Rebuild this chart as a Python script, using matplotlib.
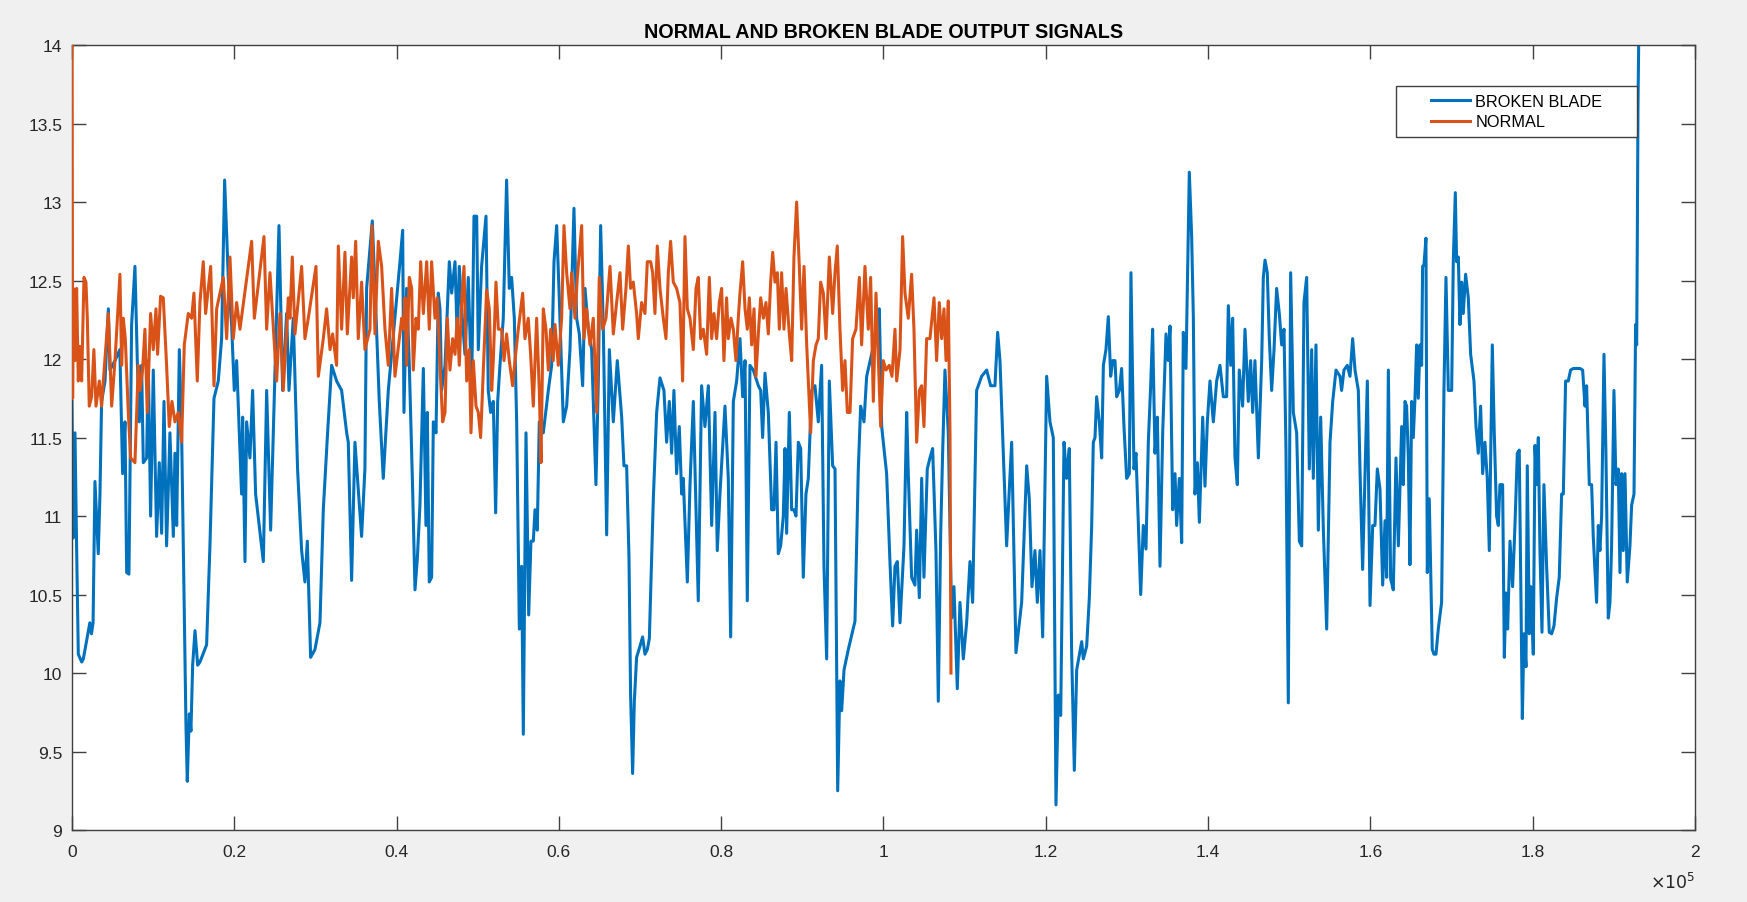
import numpy as np
import matplotlib.pyplot as plt
from matplotlib.patches import Rectangle
from matplotlib.ticker import FuncFormatter

plt.rcParams['font.family'] = ['Liberation Sans', 'DejaVu Sans']

# x values are in units of 1e5 samples
broken_x = [
    0.0, 0.0016, 0.0037, 0.0057, 0.0078, 0.012, 0.014, 0.022, 0.024, 0.026,
    0.0283, 0.0324, 0.0345, 0.0365, 0.0407, 0.0448, 0.0468, 0.053, 0.059, 0.0624,
    0.0653, 0.0674, 0.0702, 0.0735, 0.0776, 0.0805, 0.083, 0.0858, 0.0879, 0.092,
    0.094, 0.0969, 0.1002, 0.1043, 0.1076, 0.1105, 0.1134, 0.1166, 0.1207, 0.1249,
    0.1269, 0.129, 0.1323, 0.1351, 0.1405, 0.1421, 0.1446, 0.1466, 0.1487, 0.1516,
    0.1549, 0.1577, 0.1659, 0.17, 0.175, 0.1803, 0.1844, 0.1881, 0.1926, 0.1967,
    0.2, 0.2029, 0.209, 0.2103, 0.2132, 0.2152, 0.2193, 0.2226, 0.2263, 0.2358,
    0.2399, 0.2448, 0.2551, 0.2596, 0.2645, 0.2674, 0.2727, 0.278, 0.283, 0.2871,
    0.29, 0.2941, 0.2994, 0.3056, 0.3097, 0.315, 0.32, 0.3261, 0.3323, 0.3385,
    0.3405, 0.3446, 0.3487, 0.3569, 0.361, 0.3631, 0.3701, 0.3734, 0.3787, 0.3836,
    0.3898, 0.4042, 0.4075, 0.4091, 0.4124, 0.4157, 0.4198, 0.4227, 0.4256, 0.4288,
    0.433, 0.4362, 0.4379, 0.4403, 0.4432, 0.4453, 0.4486, 0.4514, 0.4535, 0.4555,
    0.4597, 0.465, 0.4679, 0.472, 0.4748, 0.4773, 0.4802, 0.4843, 0.4884, 0.4925,
    0.4954, 0.4987, 0.5007, 0.5048, 0.5102, 0.513, 0.5159, 0.5192, 0.5221, 0.5246,
    0.5274, 0.5315, 0.5356, 0.5389, 0.5418, 0.5451, 0.548, 0.5513, 0.5541, 0.5562,
    0.5595, 0.5628, 0.5656, 0.5685, 0.5706, 0.5734, 0.5759, 0.5808, 0.587, 0.5911,
    0.594, 0.5973, 0.6005, 0.6055, 0.6096, 0.6137, 0.6186, 0.6219, 0.6252, 0.6293,
    0.6322, 0.6363, 0.6404, 0.6457, 0.6486, 0.6515, 0.6548, 0.6589, 0.6622, 0.6671,
    0.672, 0.6774, 0.6802, 0.6835, 0.6864, 0.6884, 0.6909, 0.693, 0.6958, 0.6999,
    0.7032, 0.7061, 0.709, 0.7115, 0.7164, 0.7205, 0.7246, 0.7295, 0.7328, 0.7361,
    0.739, 0.7418, 0.7451, 0.7484, 0.7513, 0.7533, 0.7583, 0.7616, 0.7657, 0.7718,
    0.7759, 0.78, 0.7842, 0.7883, 0.7924, 0.7952, 0.7985, 0.8047, 0.8088, 0.8117,
    0.815, 0.8191, 0.8232, 0.8265, 0.8294, 0.8322, 0.8355, 0.8396, 0.8458, 0.8487,
    0.8511, 0.854, 0.8581, 0.8622, 0.8651, 0.8676, 0.8704, 0.8733, 0.8766, 0.8787,
    0.8807, 0.884, 0.8869, 0.8897, 0.8922, 0.8951, 0.898, 0.9012, 0.9045, 0.9074,
    0.9115, 0.9156, 0.9197, 0.9238, 0.9267, 0.93, 0.9333, 0.9374, 0.9403, 0.9436,
    0.9464, 0.9485, 0.9514, 0.9567, 0.9649, 0.969, 0.9719, 0.976, 0.9793, 0.9854,
    0.9896, 0.9924, 0.9949, 0.9978, 1.0039, 1.008, 1.0113, 1.0142, 1.0171, 1.0204,
    1.0253, 1.0286, 1.0306, 1.0347, 1.0388, 1.0409, 1.0442, 1.0471, 1.0499, 1.054,
    1.0573, 1.0606, 1.0647, 1.0676, 1.0705, 1.0729, 1.0758, 1.0799, 1.084, 1.0869,
    1.091, 1.0943, 1.0984, 1.1025, 1.1066, 1.1099, 1.1148, 1.121, 1.1272, 1.1321,
    1.1374, 1.1407, 1.1436, 1.1477, 1.1518, 1.1551, 1.158, 1.1633, 1.1703, 1.1765,
    1.1797, 1.183, 1.1867, 1.1896, 1.1929, 1.1962, 1.2011, 1.2052, 1.2093, 1.2126,
    1.2155, 1.2184, 1.2225, 1.2257, 1.229, 1.2319, 1.2352, 1.2381, 1.2443, 1.2463,
    1.2504, 1.2537, 1.2566, 1.2586, 1.2607, 1.2627, 1.266, 1.2689, 1.271, 1.2742,
    1.2771, 1.28, 1.2825, 1.2853, 1.2874, 1.2907, 1.2935, 1.2964, 1.2997, 1.303,
    1.305, 1.3087, 1.3112, 1.3141, 1.317, 1.3202, 1.3235, 1.3264, 1.3293, 1.3317,
    1.3346, 1.3375, 1.3408, 1.3441, 1.3482, 1.351, 1.3531, 1.3564, 1.3593, 1.3613,
    1.3646, 1.3675, 1.3695, 1.3728, 1.3769, 1.3798, 1.3819, 1.3839, 1.3868, 1.3893,
    1.3934, 1.3962, 1.3991, 1.4024, 1.4065, 1.4106, 1.4147, 1.4188, 1.4229, 1.425,
    1.4279, 1.4303, 1.4332, 1.4361, 1.4385, 1.4426, 1.4455, 1.4496, 1.4525, 1.455,
    1.4578, 1.462, 1.4661, 1.4681, 1.4702, 1.473, 1.4755, 1.4784, 1.4813, 1.4845,
    1.4878, 1.4907, 1.4936, 1.496, 1.4989, 1.5018, 1.5051, 1.5092, 1.5125, 1.5154,
    1.5182, 1.5215, 1.5248, 1.5277, 1.5297, 1.533, 1.5359, 1.5388, 1.5421, 1.5462,
    1.5503, 1.5536, 1.5577, 1.5626, 1.5646, 1.5675, 1.5716, 1.5749, 1.5782, 1.5811,
    1.5852, 1.5872, 1.5905, 1.5934, 1.5963, 1.5996, 1.6029, 1.6057, 1.6086, 1.6119,
    1.6152, 1.6181, 1.6201, 1.6222, 1.625, 1.6283, 1.6316, 1.6345, 1.6386, 1.6406,
    1.6427, 1.6447, 1.6468, 1.6488, 1.6509, 1.6529, 1.655, 1.657, 1.6591, 1.6611,
    1.6632, 1.6644, 1.6661, 1.6685, 1.6702, 1.6726, 1.6743, 1.6763, 1.6784, 1.6809,
    1.6837, 1.6878, 1.6907, 1.6932, 1.6961, 1.7002, 1.7022, 1.7047, 1.7063, 1.7084,
    1.7104, 1.7125, 1.7145, 1.7174, 1.7207, 1.7236, 1.7277, 1.7302, 1.733, 1.7359,
    1.7384, 1.7412, 1.7441, 1.7466, 1.7503, 1.7527, 1.7556, 1.7577, 1.7597, 1.763,
    1.7651, 1.7671, 1.7692, 1.7721, 1.7753, 1.7782, 1.7811, 1.7835, 1.7852, 1.7873,
    1.7893, 1.7918, 1.7934, 1.7959, 1.7979, 1.8008, 1.8029, 1.8049, 1.807, 1.809,
    1.8115, 1.8139, 1.8172, 1.8205, 1.8234, 1.8263, 1.8296, 1.8328, 1.8357, 1.8378,
    1.8406, 1.8439, 1.8468, 1.8501, 1.8583, 1.8616, 1.8645, 1.8665, 1.8698, 1.8727,
    1.8747, 1.8788, 1.8809, 1.8829, 1.885, 1.8879, 1.8903, 1.8932, 1.8953, 1.8973,
    1.9002, 1.9027, 1.9055, 1.9076, 1.9097, 1.9117, 1.9138, 1.9166, 1.9199, 1.922,
    1.9249, 1.9269, 1.9282, 1.929, 1.9298, 1.9306, 1.9315,
]
broken_y = [
    11.73, 10.86, 11.53, 10.81, 10.12, 10.07, 10.09, 10.32, 10.25, 10.32,
    11.22, 10.76, 11.14, 11.73, 11.86, 12.32, 11.93, 11.99, 12.06, 11.27,
    11.6, 10.64, 10.63, 12.22, 12.59, 11.99, 11.6, 11.96, 11.34, 11.37,
    11.99, 11.0, 11.93, 10.87, 11.34, 10.89, 11.73, 10.81, 11.53, 10.87,
    11.4, 10.94, 12.06, 11.53, 9.66, 9.31, 9.74, 9.63, 10.05, 10.27,
    10.05, 10.07, 10.18, 10.81, 11.75, 11.86, 12.13, 13.14, 12.52, 12.22,
    11.8, 11.99, 11.14, 11.63, 10.71, 11.6, 11.37, 11.8, 11.14, 10.71,
    11.8, 10.91, 12.85, 11.8, 12.29, 11.8, 12.26, 11.3, 10.78, 10.58,
    10.84, 10.1, 10.15, 10.32, 11.04, 11.53, 11.96, 11.86, 11.8, 11.53,
    11.47, 10.59, 11.47, 10.87, 11.3, 12.45, 12.88, 12.45, 11.73, 11.24,
    11.8, 12.62, 12.82, 11.66, 12.45, 11.96, 11.17, 10.53, 10.73, 11.07,
    11.94, 10.94, 11.66, 10.58, 10.61, 11.6, 11.53, 12.42, 12.32, 11.8,
    11.96, 12.62, 12.42, 12.62, 12.13, 12.59, 12.32, 12.03, 12.52, 11.8,
    12.91, 12.91, 12.06, 12.59, 12.91, 11.8, 11.66, 11.73, 11.02, 11.73,
    11.96, 12.26, 13.14, 12.45, 12.52, 12.26, 11.6, 10.28, 10.68, 9.61,
    11.53, 10.37, 10.84, 10.84, 11.04, 10.91, 11.6, 11.53, 11.8, 11.96,
    12.62, 12.85, 12.39, 11.6, 11.7, 12.06, 12.96, 12.26, 12.16, 11.83,
    12.45, 12.19, 12.06, 11.2, 11.86, 12.85, 12.19, 10.88, 12.06, 11.6,
    11.99, 11.63, 11.32, 11.32, 10.74, 9.86, 9.36, 9.82, 10.1, 10.17,
    10.23, 10.12, 10.15, 10.22, 11.11, 11.66, 11.88, 11.8, 11.47, 11.73,
    11.4, 11.8, 11.27, 11.57, 11.14, 11.24, 10.58, 11.2, 11.73, 10.46,
    11.83, 11.57, 11.83, 10.94, 11.66, 10.78, 11.14, 11.7, 11.24, 10.23,
    11.73, 11.86, 12.13, 11.76, 11.99, 10.46, 11.96, 11.93, 11.83, 11.8,
    11.5, 11.91, 11.66, 11.04, 11.04, 11.47, 10.76, 10.81, 11.0, 11.43,
    10.89, 11.66, 11.04, 11.04, 11.0, 11.47, 11.43, 10.61, 11.14, 11.24,
    11.8, 11.83, 11.6, 11.96, 10.68, 10.09, 11.86, 11.32, 11.3, 9.25,
    9.95, 9.76, 10.02, 10.15, 10.33, 11.3, 11.7, 11.6, 11.89, 12.03,
    12.13, 12.22, 12.32, 11.57, 11.27, 10.71, 10.3, 10.68, 10.71, 10.32,
    10.81, 11.66, 11.27, 10.61, 10.56, 10.91, 10.48, 11.24, 10.61, 11.3,
    11.37, 11.43, 10.78, 9.82, 10.88, 11.4, 11.93, 11.53, 10.35, 10.55,
    9.9, 10.45, 10.09, 10.32, 10.71, 10.45, 11.8, 11.89, 11.93, 11.83,
    11.83, 12.17, 11.99, 11.4, 10.81, 11.17, 11.47, 10.13, 10.45, 11.32,
    11.11, 10.55, 10.78, 10.45, 10.78, 10.23, 11.89, 11.6, 11.5, 9.16,
    9.86, 9.73, 11.47, 11.24, 11.43, 10.13, 9.38, 10.02, 10.2, 10.09,
    10.17, 10.48, 10.94, 11.47, 11.5, 11.76, 11.6, 11.37, 11.96, 12.06,
    12.27, 11.89, 11.99, 11.99, 11.76, 11.8, 11.94, 11.57, 11.24, 11.27,
    12.55, 11.3, 11.4, 10.94, 10.5, 10.94, 10.79, 11.47, 11.83, 12.19,
    11.4, 11.63, 10.68, 11.53, 12.16, 11.99, 12.21, 11.04, 11.27, 10.94,
    11.24, 10.83, 12.17, 11.94, 13.19, 12.78, 12.26, 11.14, 11.34, 10.96,
    11.63, 11.19, 11.6, 11.86, 11.6, 11.86, 11.96, 11.76, 11.76, 12.34,
    11.96, 12.26, 11.37, 11.2, 11.93, 11.7, 12.19, 11.73, 11.99, 11.66,
    11.99, 11.37, 11.99, 12.52, 12.63, 12.55, 12.13, 11.8, 12.06, 12.45,
    12.29, 12.09, 12.19, 11.43, 9.81, 12.55, 11.66, 11.53, 10.84, 10.81,
    12.36, 12.52, 11.3, 12.06, 11.24, 12.09, 10.91, 11.63, 10.91, 10.28,
    11.47, 11.73, 11.93, 11.89, 11.8, 11.93, 11.96, 11.89, 12.13, 11.93,
    11.8, 11.3, 10.66, 11.27, 11.86, 10.43, 10.94, 10.94, 11.3, 11.17,
    10.56, 10.97, 10.61, 11.93, 10.6, 10.53, 11.37, 10.81, 11.57, 11.2,
    11.73, 11.7, 11.37, 10.69, 11.73, 11.5, 11.75, 12.09, 11.75, 12.09,
    11.96, 12.59, 12.6, 12.77, 10.64, 11.11, 10.66, 10.15, 10.12, 10.12,
    10.28, 10.45, 11.8, 12.52, 11.8, 11.8, 12.62, 13.06, 12.62, 12.65,
    12.22, 12.49, 12.29, 12.54, 12.39, 12.03, 11.86, 11.57, 11.4, 11.7,
    11.27, 11.47, 11.24, 10.78, 12.09, 11.53, 11.0, 10.94, 11.2, 11.2,
    10.1, 10.51, 10.28, 10.84, 10.55, 10.94, 11.4, 11.42, 10.64, 9.71,
    10.25, 10.04, 11.32, 10.25, 10.55, 10.12, 11.45, 11.2, 11.5, 10.78,
    10.26, 11.2, 10.68, 10.26, 10.25, 10.3, 10.48, 10.61, 11.14, 11.14,
    11.86, 11.86, 11.93, 11.94, 11.94, 11.93, 11.7, 11.83, 11.2, 11.2,
    10.87, 10.45, 10.94, 10.78, 11.0, 12.03, 11.4, 10.35, 10.45, 10.81,
    11.8, 11.2, 11.3, 10.64, 11.27, 10.78, 11.27, 10.58, 10.81, 11.07,
    11.14, 12.22, 12.09, 12.78, 13.6, 14.0, 14.4,
]

normal_x = [
    0.0, 0.0008, 0.0016, 0.0037, 0.0057, 0.0078, 0.0098, 0.0119, 0.0148, 0.0172,
    0.0189, 0.0213, 0.0242, 0.027, 0.0296, 0.0337, 0.0365, 0.0386, 0.0448, 0.0489,
    0.053, 0.0591, 0.0612, 0.0632, 0.0657, 0.0694, 0.0723, 0.0776, 0.0817, 0.0838,
    0.087, 0.0899, 0.0928, 0.0969, 0.1002, 0.1035, 0.1055, 0.1092, 0.1125, 0.1166,
    0.1199, 0.1232, 0.1269, 0.131, 0.1351, 0.1384, 0.1433, 0.1474, 0.1503, 0.1544,
    0.1577, 0.1618, 0.1647, 0.1709, 0.175, 0.1783, 0.1865, 0.1906, 0.1947, 0.1988,
    0.2029, 0.207, 0.2214, 0.2247, 0.2366, 0.2399, 0.244, 0.2522, 0.2563, 0.2604,
    0.2666, 0.2686, 0.2715, 0.2748, 0.283, 0.2871, 0.2912, 0.3007, 0.3036, 0.3097,
    0.3138, 0.318, 0.3212, 0.3261, 0.3282, 0.3323, 0.3364, 0.3393, 0.3446, 0.3467,
    0.3496, 0.3528, 0.3569, 0.361, 0.3672, 0.3697, 0.3734, 0.3775, 0.3816, 0.3857,
    0.3898, 0.3939, 0.398, 0.4063, 0.4083, 0.4104, 0.4124, 0.4157, 0.4186, 0.4206,
    0.4239, 0.4268, 0.4297, 0.433, 0.4371, 0.4403, 0.4432, 0.4473, 0.4502, 0.4535,
    0.4568, 0.4597, 0.4625, 0.4658, 0.4691, 0.472, 0.4748, 0.4773, 0.4802, 0.4831,
    0.4864, 0.4896, 0.4917, 0.4946, 0.4979, 0.5007, 0.5036, 0.5069, 0.511, 0.5143,
    0.5172, 0.5192, 0.5225, 0.5254, 0.5295, 0.5324, 0.5356, 0.5389, 0.543, 0.5459,
    0.55, 0.5554, 0.5582, 0.5623, 0.5652, 0.5685, 0.5726, 0.5759, 0.578, 0.5808,
    0.5841, 0.587, 0.5899, 0.5931, 0.5952, 0.5993, 0.6034, 0.6063, 0.6096, 0.6137,
    0.6157, 0.6199, 0.6227, 0.6281, 0.6309, 0.6342, 0.6383, 0.6424, 0.6466, 0.6498,
    0.6539, 0.6581, 0.663, 0.6671, 0.6712, 0.6753, 0.6786, 0.6827, 0.6856, 0.6884,
    0.6917, 0.6958, 0.6979, 0.702, 0.7061, 0.709, 0.7131, 0.7156, 0.7184, 0.7213,
    0.7246, 0.7287, 0.732, 0.7349, 0.7377, 0.741, 0.7451, 0.7492, 0.7525, 0.7554,
    0.7583, 0.7616, 0.7657, 0.769, 0.7718, 0.7747, 0.778, 0.7821, 0.7854, 0.7883,
    0.7911, 0.7944, 0.7977, 0.8006, 0.8034, 0.8067, 0.8088, 0.8121, 0.815, 0.8182,
    0.8211, 0.8232, 0.8265, 0.8294, 0.8322, 0.8347, 0.8376, 0.8405, 0.8429, 0.8458,
    0.8487, 0.852, 0.8552, 0.8581, 0.861, 0.8635, 0.8663, 0.8692, 0.8717, 0.8745,
    0.8774, 0.8799, 0.884, 0.8869, 0.8897, 0.893, 0.8963, 0.8992, 0.9021, 0.9054,
    0.9074, 0.9103, 0.9136, 0.9169, 0.9197, 0.9226, 0.9259, 0.9292, 0.9333, 0.9374,
    0.9403, 0.9431, 0.9464, 0.9497, 0.9526, 0.9555, 0.9588, 0.962, 0.9661, 0.9703,
    0.9731, 0.9772, 0.9813, 0.9842, 0.9875, 0.9908, 0.9937, 0.9966, 0.9998, 1.0031,
    1.0072, 1.0105, 1.0142, 1.0163, 1.0204, 1.0236, 1.0265, 1.0306, 1.0347, 1.0376,
    1.0409, 1.0442, 1.0471, 1.0499, 1.0532, 1.0573, 1.0623, 1.0655, 1.0688, 1.0717,
    1.0746, 1.0771, 1.0799, 1.082, 1.0832,
]
normal_y = [
    14.3, 11.75, 12.45, 11.99, 12.45, 11.86, 12.08, 11.86, 12.52, 12.49,
    12.26, 11.7, 11.76, 12.06, 11.7, 11.86, 11.7, 11.86, 12.29, 11.7,
    11.99, 12.54, 11.96, 12.26, 12.13, 11.66, 11.37, 11.34, 11.96, 11.8,
    11.93, 12.19, 11.66, 12.29, 12.06, 12.32, 12.03, 12.4, 12.39, 11.96,
    11.57, 11.73, 11.6, 11.66, 11.47, 12.09, 12.29, 12.26, 12.42, 11.86,
    12.36, 12.62, 12.29, 12.59, 11.83, 12.32, 12.52, 12.13, 12.65, 12.13,
    12.36, 12.19, 12.75, 12.26, 12.78, 12.19, 12.55, 11.86, 12.29, 11.8,
    12.39, 12.26, 12.65, 12.16, 12.59, 12.13, 12.26, 12.59, 11.89, 12.13,
    12.32, 12.06, 12.16, 11.96, 12.72, 12.19, 12.68, 12.16, 12.65, 12.39,
    12.75, 12.13, 12.49, 12.06, 12.19, 12.85, 12.16, 12.75, 12.59, 12.19,
    11.96, 12.45, 11.89, 12.26, 12.19, 12.39, 11.96, 12.52, 12.45, 11.93,
    12.26, 12.19, 12.62, 12.29, 12.62, 12.19, 12.62, 12.26, 12.39, 11.96,
    11.6, 11.66, 12.26, 11.93, 12.13, 12.03, 12.26, 11.96, 12.36, 12.59,
    11.86, 12.06, 11.53, 11.99, 11.7, 11.66, 11.5, 11.93, 12.44, 12.32,
    11.8, 11.99, 12.49, 12.19, 12.19, 11.99, 12.16, 11.99, 11.83, 11.99,
    12.19, 12.42, 12.13, 12.26, 12.03, 11.7, 12.26, 11.8, 11.34, 12.32,
    12.19, 11.93, 12.19, 11.99, 12.22, 11.96, 12.26, 12.85, 12.55, 12.32,
    12.55, 12.26, 12.52, 12.85, 12.13, 12.32, 12.09, 12.26, 11.66, 12.52,
    12.19, 12.26, 12.59, 12.16, 12.36, 12.55, 12.19, 12.45, 12.72, 12.45,
    12.49, 12.29, 12.13, 12.36, 12.29, 12.62, 12.62, 12.55, 12.29, 12.72,
    12.45, 12.26, 12.13, 12.55, 12.75, 12.49, 12.45, 12.36, 11.86, 12.78,
    12.32, 12.26, 12.06, 12.45, 12.52, 12.13, 12.19, 12.03, 12.52, 12.13,
    12.29, 12.13, 12.36, 12.45, 11.99, 12.39, 12.13, 12.26, 12.19, 11.99,
    12.26, 12.42, 12.62, 12.32, 12.19, 12.39, 12.09, 12.32, 11.89, 12.16,
    12.39, 12.26, 12.36, 12.16, 12.49, 12.68, 12.49, 12.55, 12.19, 12.55,
    12.19, 12.45, 12.16, 11.99, 12.65, 13.0, 12.59, 12.19, 12.59, 12.09,
    11.86, 11.53, 11.99, 12.09, 12.13, 12.49, 12.42, 12.13, 12.65, 12.29,
    12.55, 12.72, 12.19, 11.8, 11.99, 11.66, 11.66, 12.13, 12.19, 12.52,
    12.09, 12.59, 12.19, 12.52, 11.73, 12.42, 11.99, 11.57, 11.99, 11.93,
    11.96, 11.89, 12.19, 11.86, 12.06, 12.78, 12.42, 12.26, 12.54, 12.19,
    11.47, 11.8, 11.83, 11.57, 12.13, 12.13, 12.39, 11.99, 12.36, 12.13,
    12.32, 11.99, 12.37, 11.53, 10.0,
]

x_ticks = [0, 0.2, 0.4, 0.6, 0.8, 1, 1.2, 1.4, 1.6, 1.8, 2]
y_ticks = [9, 9.5, 10, 10.5, 11, 11.5, 12, 12.5, 13, 13.5, 14]

blue = '#0072BD'
orange = '#D95319'
axis_col = '#404040'
text_col = '#262626'

fig = plt.figure(figsize=(17.47, 9.03), dpi=100, facecolor='#f0f0f0')
ax = fig.add_axes([0.0412, 0.0797, 0.9290, 0.8693])
ax.set_facecolor('white')

bx = np.array(broken_x) * 1e5
nx = np.array(normal_x) * 1e5
l1, = ax.plot(bx, broken_y, color=blue, lw=2.2, label='BROKEN BLADE', zorder=2)
l2, = ax.plot(nx, normal_y, color=orange, lw=2.2, label='NORMAL', zorder=3)

ax.set_xlim(0, 2e5)
ax.set_ylim(9, 14)
ax.set_xticks(np.array(x_ticks) * 1e5)
ax.set_yticks(y_ticks)
ax.xaxis.set_major_formatter(FuncFormatter(lambda v, p: '{:g}'.format(v / 1e5)))
ax.yaxis.set_major_formatter(FuncFormatter(lambda v, p: '{:g}'.format(v)))

ax.tick_params(direction='in', length=10, width=1, color=axis_col,
               labelcolor=text_col, labelsize=12.5, top=True, right=True)
ax.tick_params(axis='x', pad=10)
ax.tick_params(axis='y', pad=7)
for s in ax.spines.values():
    s.set_color(axis_col)
    s.set_linewidth(1)

ax.set_title('NORMAL AND BROKEN BLADE OUTPUT SIGNALS', fontsize=14.2,
             fontweight='bold', color='black', pad=5.5)

ax.text(1.0, -0.052, r'$\times10^{5}$', transform=ax.transAxes, ha='right',
        va='top', fontsize=12.5, color=text_col)

# legend box drawn by hand (MATLAB-style wide padding)
ax.add_patch(Rectangle((0.8158, 0.8828), 0.1485, 0.065, transform=ax.transAxes,
                       facecolor='white', edgecolor=axis_col, lw=1, zorder=5))
ax.legend(handles=[l1, l2], loc='center', bbox_to_anchor=(0.8900, 0.9153),
          frameon=False, fontsize=11.7, handlelength=2.45, handletextpad=0.3,
          labelspacing=0.35, borderpad=0.2).set_zorder(6)

fig.savefig('out.png', dpi=100, facecolor=fig.get_facecolor())
